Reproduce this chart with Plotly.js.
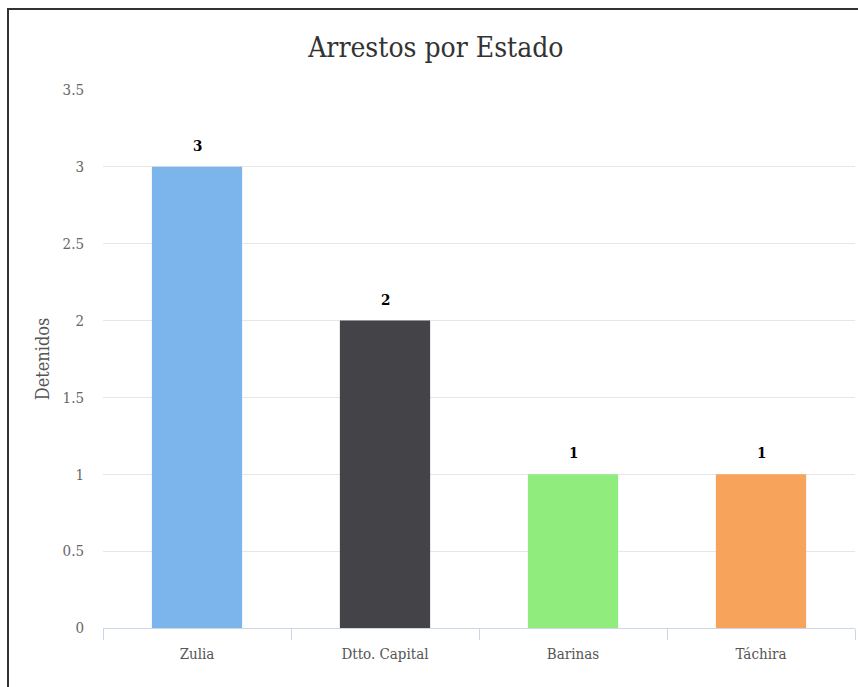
<!DOCTYPE html>
<html>
<head>
<meta charset="utf-8">
<script src="https://cdn.plot.ly/plotly-3.0.1.min.js"></script>
<style>
  html, body { margin: 0; padding: 0; background: #fff; }
  #chart { width: 858px; height: 687px; position: absolute; left: 0; top: 0; }
  #frame { position: absolute; left: 7px; top: 8px; width: 851px; height: 679px;
           border-top: 2px solid #333; border-left: 2px solid #333; box-sizing: border-box; pointer-events: none; }
</style>
</head>
<body>
<div id="chart"></div>
<div id="frame"></div>
<script>
const categories = ["Zulia", "Dtto. Capital", "Barinas", "Táchira"];
const detenidos = [3, 2, 1, 1];
const barColors = ["#7cb5ec", "#434348", "#90ed7d", "#f7a35c"];
const yTicks = [0, 0.5, 1, 1.5, 2, 2.5, 3, 3.5];

const FONT = "'DejaVu Serif Condensed', 'DejaVu Serif', 'Liberation Serif', serif";

const trace = {
  type: "bar",
  x: categories,
  y: detenidos,
  marker: { color: barColors, line: { width: 0 } },
  width: 0.48,
  hoverinfo: "x+y"
};

const annotations = categories.map((c, i) => ({
  x: c, y: detenidos[i], xref: "x", yref: "y",
  text: "<b>" + detenidos[i] + "</b>",
  showarrow: false, yanchor: "bottom", yshift: 10,
  font: { family: FONT, size: 15, color: "#000" }
}));

const layout = {
  width: 858, height: 687,
  margin: { l: 103, r: 3, t: 90, b: 59 },
  paper_bgcolor: "#fff", plot_bgcolor: "#fff",
  showlegend: false,
  title: {
    text: "Arrestos por Estado",
    x: 0.508, xanchor: "center", y: 0.932, yanchor: "middle",
    font: { family: FONT, size: 28, color: "#333" }
  },
  xaxis: {
    type: "category",
    showgrid: false,
    showline: true, linecolor: "#ccd6eb", linewidth: 1,
    ticks: "outside", ticklen: 11, tickcolor: "#ccd6eb", tickson: "boundaries",
    ticklabelstandoff: 12,
    tickfont: { family: FONT, size: 15, color: "#555" },
    zeroline: false
  },
  yaxis: {
    range: [0, 3.5],
    tickvals: yTicks,
    ticktext: yTicks.map(String),
    showgrid: true, gridcolor: "#e6e6e6", gridwidth: 1,
    zeroline: false, showline: false,
    ticklabelstandoff: 18,
    tickfont: { family: FONT, size: 15, color: "#666" },
    title: { text: "Detenidos", standoff: 8, font: { family: FONT, size: 18, color: "#555" } }
  },
  annotations: annotations
};

Plotly.newPlot("chart", [trace], layout, { displayModeBar: false, staticPlot: true });
</script>
</body>
</html>
